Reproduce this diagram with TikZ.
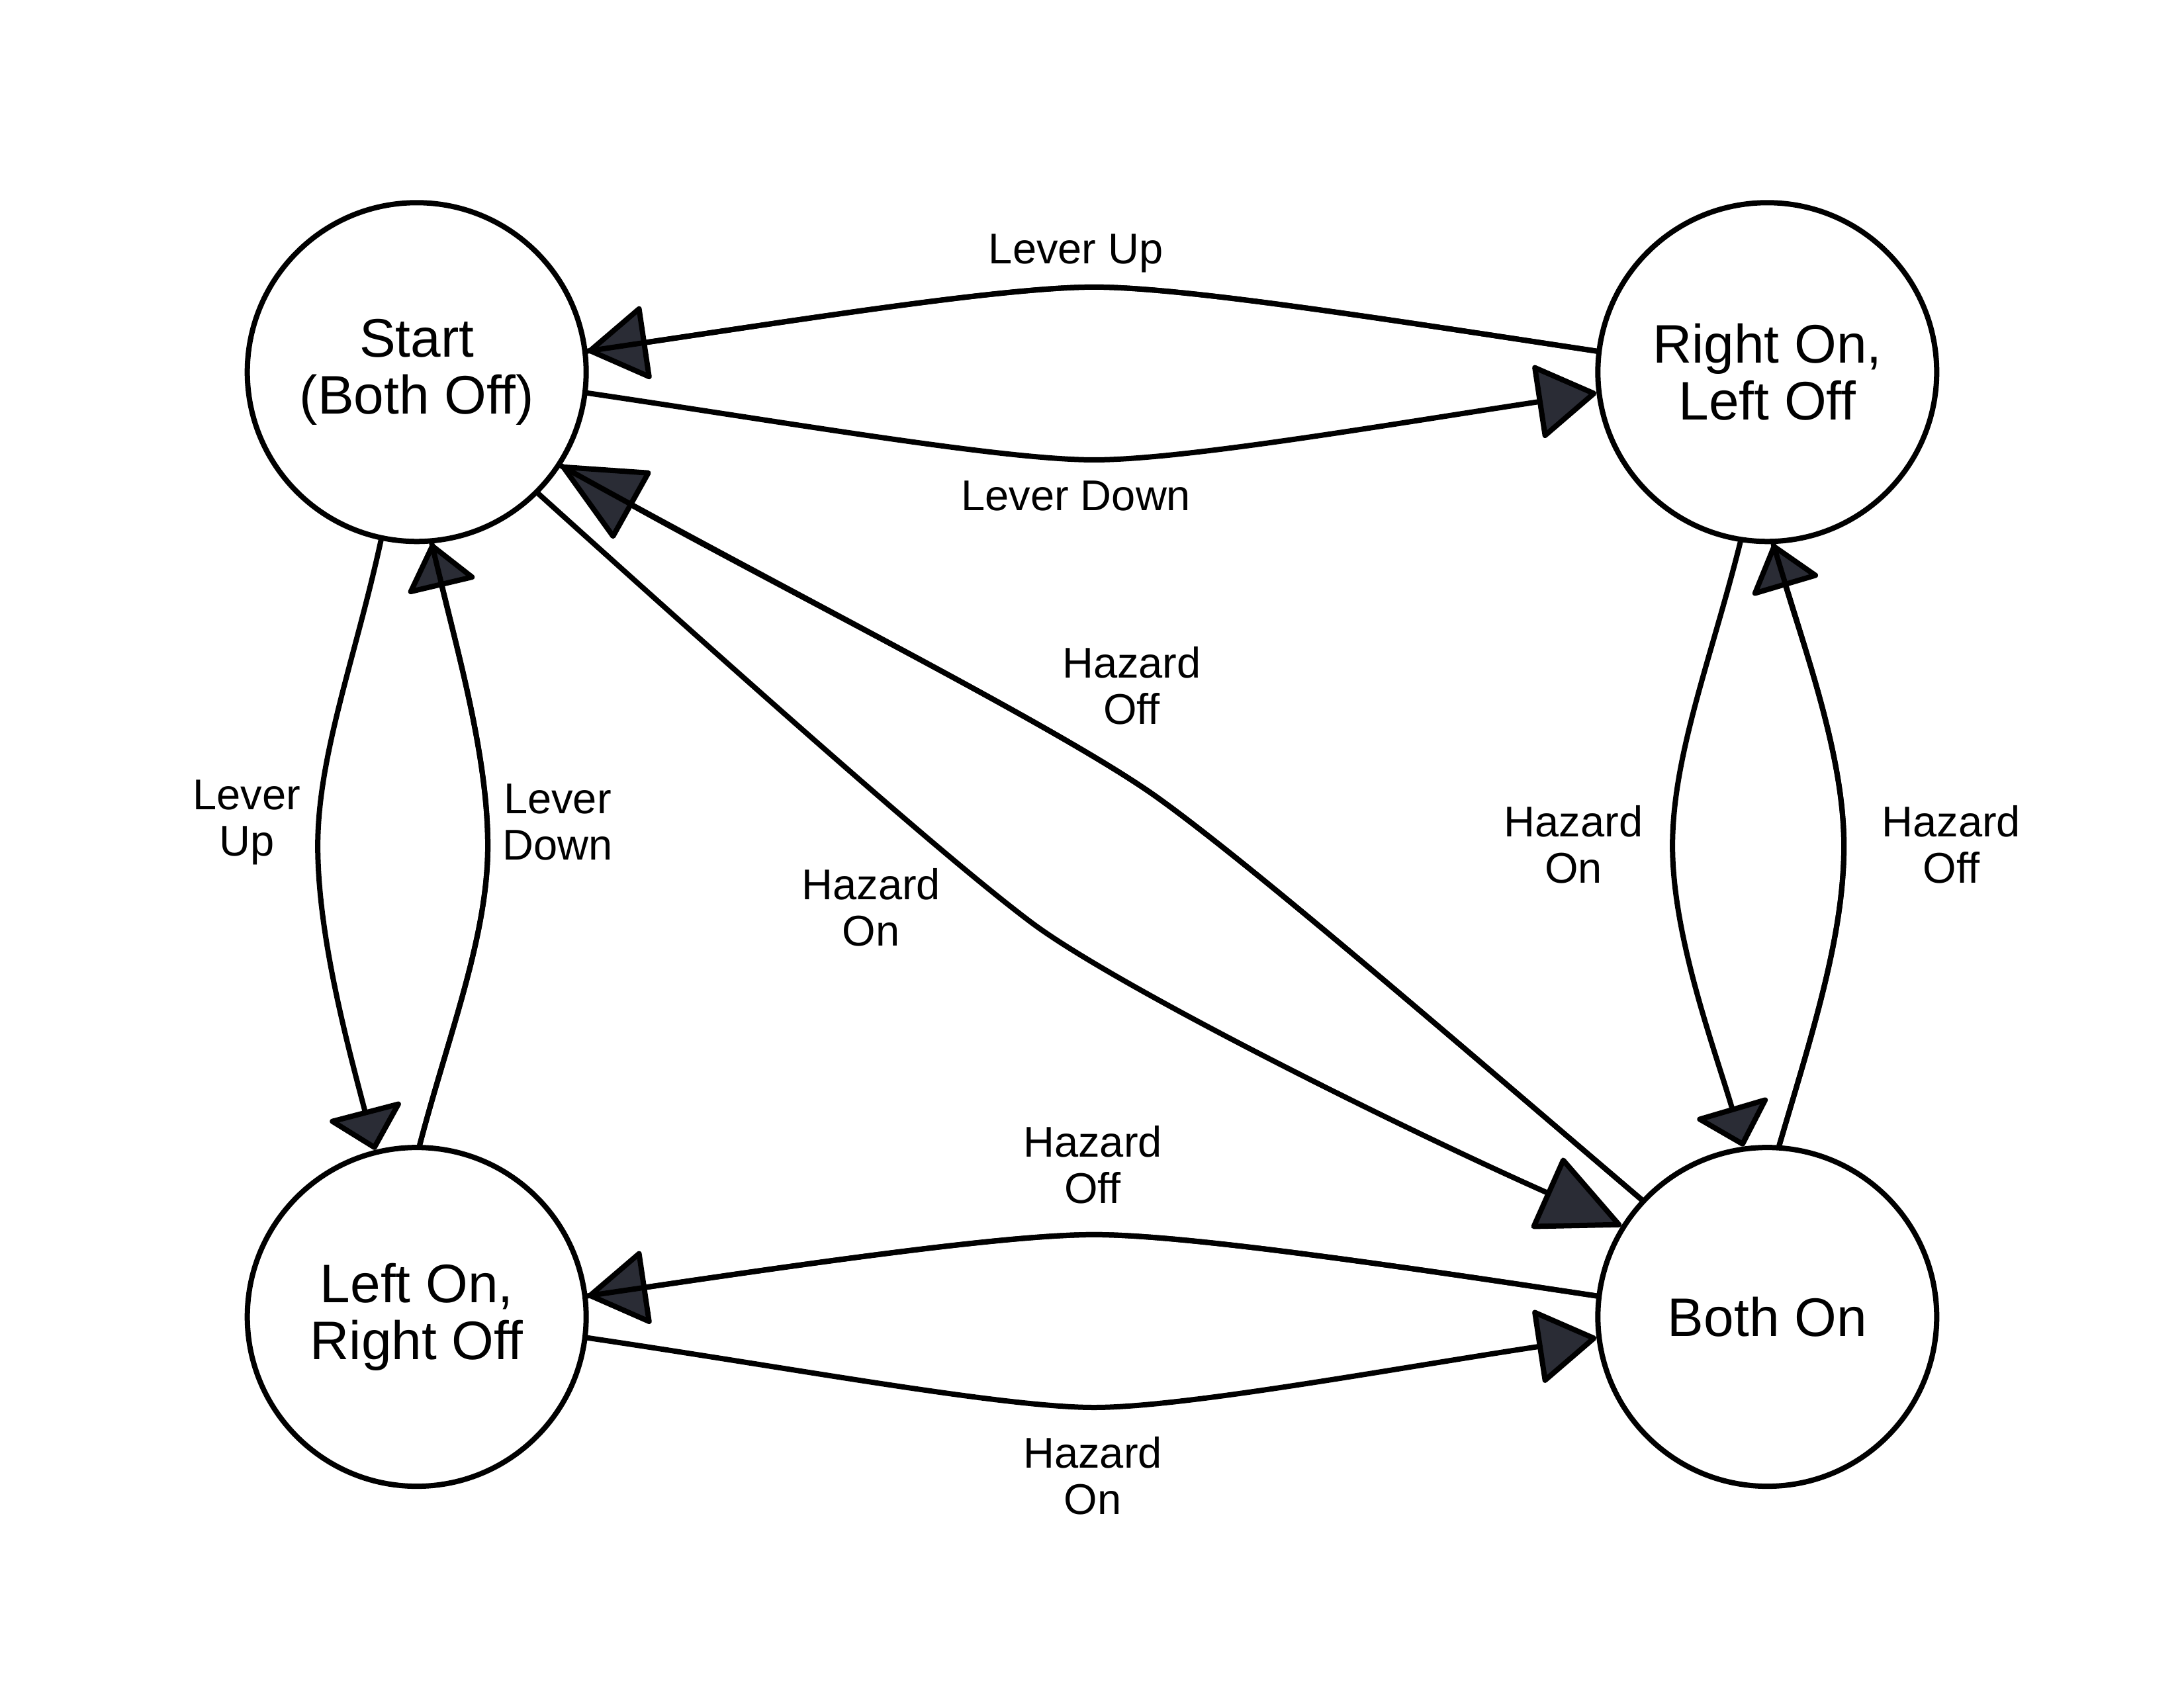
\documentclass[tikz,border=0pt]{standalone}
\usepackage{fontspec}
\setmainfont{Liberation Sans}
\usetikzlibrary{arrows.meta}
\definecolor{tipfill}{HTML}{2A2C35}
\begin{document}
\begin{tikzpicture}[x=2.106pt,y=-2.106pt,
  state/.style={circle,draw,line width=8pt,minimum size=512pt,inner sep=0pt,align=center,
    font=\fontsize{82}{86}\selectfont},
  lbl/.style={align=center,inner sep=0pt,font=\fontsize{65}{70}\selectfont},
  edge/.style={line width=8pt,line cap=round},
  back/.style={postaction={draw,line width=8pt,line cap=round,arrows=-}},
  tipA/.style={-{Triangle[length=94pt,width=116pt,fill=tipfill,round]}},
  tipB/.style={-{Triangle[length=130pt,width=120pt,fill=tipfill,round]}},
  tipC/.style={-{Triangle[length=64pt,width=120pt,fill=tipfill,round]}},
  tipD/.style={-{Triangle[length=70pt,width=110pt,fill=tipfill,round]}}
]
\useasboundingbox (0,0) rectangle (1567,1211);
\fill[white] (0,0) rectangle (1567,1211);

\node[state] (S) at (299,267) {Start\\(Both Off)};
\node[state] (R) at (1268,267) {Right On,\\Left Off};
\node[state] (L) at (299,945) {Left On,\\Right Off};
\node[state] (B) at (1268,945) {Both On};

% Start -> Right (Lever Down)
\draw[edge,tipA] (S.-7) .. controls (570,304) and (720,330) .. (785,330)
  .. controls (850,330) and (1000,304) .. (R.187);
% Right -> Start (Lever Up)
\draw[edge,tipA,back] (R.173) .. controls (1000,230) and (850,206) .. (785,206)
  .. controls (720,206) and (570,230) .. (S.7);
% Start -> Left (Lever Up)
\draw[edge,tipC] (S.258) .. controls (255,472) and (228,542) .. (228,607)
  .. controls (228,672) and (250,752) .. (L.104);
% Left -> Start (Lever Down)
\draw[edge,tipD,back] (L.89) .. controls (322,742) and (350,672) .. (350,607)
  .. controls (350,542) and (328,467) .. (S.-85);
% Start -> Both (Hazard On)
\draw[edge,tipB] (S.-45) .. controls (550,502) and (680,617) .. (740,662)
  .. controls (800,707) and (1000,807) .. (B.148);
% Both -> Start (Hazard Off)
\draw[edge,tipB,back] (B.137) .. controls (1050,752) and (900,622) .. (830,572)
  .. controls (760,522) and (560,422) .. (S.-33);
% Right -> Both (Hazard On)
\draw[edge,tipC] (R.-99) .. controls (1228,472) and (1200,542) .. (1200,607)
  .. controls (1200,672) and (1230,752) .. (B.98);
% Both -> Right (Hazard Off)
\draw[edge,tipD,back] (B.86) .. controls (1300,742) and (1323,672) .. (1323,607)
  .. controls (1323,542) and (1295,467) .. (R.-88);
% Both -> Left (Hazard Off)
\draw[edge,tipA,back] (B.173) .. controls (1000,908) and (850,886) .. (785,886)
  .. controls (720,886) and (570,908) .. (L.7);
% Left -> Both (Hazard On)
\draw[edge,tipA] (L.-7) .. controls (570,982) and (720,1010) .. (785,1010)
  .. controls (850,1010) and (1000,982) .. (B.187);

\node[lbl] (l1) at (772,182) {Lever Up};
\node[lbl] (l2) at (772,356) {Lever Down};
\node[lbl] (l3) at (177,590) {Lever\\Up};
\node[lbl] (l4) at (400,590) {Lever\\Down};
\node[lbl] (l5) at (625,651) {Hazard\\On};
\node[lbl] (l6) at (812,492) {Hazard\\Off};
\node[lbl] (l7) at (1129,606) {Hazard\\On};
\node[lbl] (l8) at (1400,606) {Hazard\\Off};
\node[lbl] (l9) at (784,836) {Hazard\\Off};
\node[lbl] (l10) at (784,1059) {Hazard\\On};
\end{tikzpicture}
\end{document}
